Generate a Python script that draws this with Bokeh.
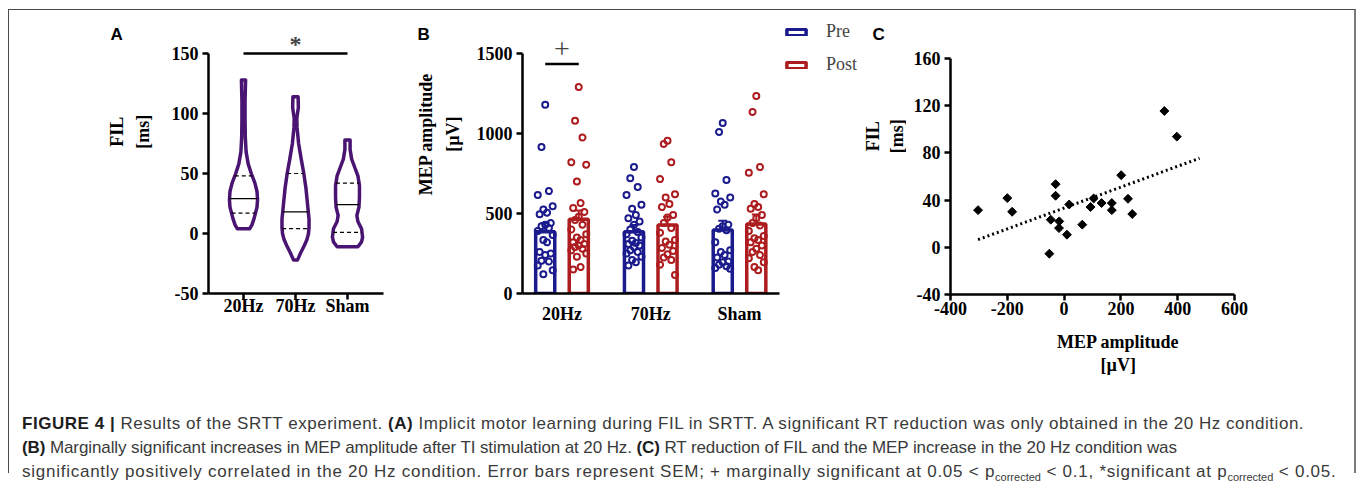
import numpy as np
from bokeh.plotting import figure
from bokeh.models import FixedTicker, Label, Legend, LegendItem, Div, Range1d
from bokeh.layouts import row, column
from bokeh.embed import file_html
from bokeh.resources import INLINE
from bokeh.core.properties import value

# ---------------- Panel A: violin profiles (value, half-width)
conditions = ["20Hz", "70Hz", "Sham"]
v20_y = [128, 110, 95, 80, 68, 58, 50, 42, 35, 28, 22, 17, 12, 7, 4]
v20_w = [0.04, 0.03, 0.03, 0.035, 0.05, 0.09, 0.15, 0.22, 0.26, 0.27, 0.26, 0.23, 0.2, 0.16, 0.12]
v70_y = [114, 105, 96, 88, 75, 62, 50, 38, 25, 12, 5, 0, -5, -10, -16, -22]
v70_w = [0.05, 0.055, 0.025, 0.03, 0.06, 0.11, 0.16, 0.2, 0.23, 0.26, 0.26, 0.25, 0.22, 0.17, 0.1, 0.04]
vsh_y = [78, 70, 62, 55, 48, 40, 30, 22, 15, 10, 4, -3, -7, -11]
vsh_w = [0.05, 0.05, 0.08, 0.14, 0.2, 0.23, 0.23, 0.22, 0.18, 0.2, 0.27, 0.29, 0.27, 0.2]
fil_median = [29, 18, 24]
fil_q1 = [17, 4, 1]
fil_q3 = [48, 50, 42]

# ---------------- Panel B
groups = ["20Hz", "70Hz", "Sham"]
pre_mean = [386, 386, 397]
post_mean = [464, 428, 434]
pre_sem = [55, 42, 58]
post_sem = [55, 52, 60]
pre_20 = [1180, 915, 640, 615, 545, 525, 505, 495, 440, 430, 420, 410, 390, 365, 335, 320, 260, 250, 240, 205, 200, 175, 145, 120]
post_20 = [1290, 1080, 975, 820, 805, 700, 565, 535, 510, 480, 460, 430, 400, 370, 350, 335, 320, 310, 300, 290, 280, 270, 250, 230, 165, 150]
pre_70 = [790, 720, 665, 615, 555, 530, 490, 470, 450, 430, 400, 385, 370, 350, 330, 315, 310, 300, 290, 270, 260, 250, 230, 210, 195, 175]
post_70 = [955, 935, 820, 715, 620, 600, 560, 540, 490, 475, 440, 410, 380, 335, 325, 305, 285, 265, 245, 225, 210, 180, 115]
pre_sh = [1065, 1010, 710, 625, 600, 575, 555, 525, 430, 420, 405, 395, 320, 270, 260, 240, 225, 200, 195, 180, 170, 160, 155]
post_sh = [1235, 1135, 790, 755, 620, 560, 540, 530, 490, 470, 440, 425, 390, 360, 345, 335, 320, 300, 280, 260, 240, 220, 195, 165, 145]

# ---------------- Panel C
mep_change = [-303, -200, -183, -52, -47, -30, -30, -17, -18, 10, 18, 64, 93, 104, 132, 168, 168, 201, 225, 240, 353, 397]
fil_change = [31.5, 41.7, 30.1, -5.4, 23.4, 53.5, 43.7, 22, 16.3, 10.7, 36.3, 19.2, 34.1, 41.4, 37.5, 37.5, 31.5, 61.1, 41.1, 28.2, 115.5, 93.8]
trend_x = [-303, 477]
trend_y = [6.5, 75.5]

PURPLE = "#4a1472"
BLUE = "#1b1b8e"
RED = "#ad1c1f"
SERIF = "Liberation Serif"
SANS = "Liberation Sans"
H = 371


def style(p, fs):
    p.grid.visible = False
    p.outline_line_color = None
    p.background_fill_color = "white"
    p.border_fill_color = "white"
    for ax in (p.xaxis[0], p.yaxis[0]):
        ax.axis_line_width = 2.5
        ax.axis_line_color = "black"
        ax.major_tick_line_width = 2.5
        ax.major_tick_line_color = "black"
        ax.major_tick_out = 6
        ax.major_tick_in = 0
        ax.minor_tick_line_color = None
        ax.major_label_text_font = SERIF
        ax.major_label_text_font_style = "bold"
        ax.major_label_text_font_size = fs
        ax.major_label_text_color = "black"


def strip(width, height):
    s = figure(width=width, height=height, x_range=Range1d(0, width), y_range=Range1d(0, height),
               output_backend="svg", toolbar_location=None, min_border=0,
               x_axis_location=None, y_axis_location=None)
    s.grid.visible = False
    s.outline_line_color = None
    s.background_fill_color = "white"
    s.border_fill_color = "white"
    return s


def stext(s, x, y, text, size, font=SERIF, bold=True, angle=0.0, align="center", baseline="middle"):
    s.text(x=[x], y=[y], text=[text], angle=angle, text_font=value(font),
           text_font_size=value(size), text_font_style="bold" if bold else "normal",
           text_align=align, text_baseline=baseline, text_color="black")


# ================= Panel A =================
sA = strip(151, H)
stext(sA, 101, 340, "A", "17px", font=SANS, align="left", baseline="alphabetic")
stext(sA, 107, 212, "FIL", "18px", angle=np.pi / 2)
stext(sA, 133, 212, "[ms]", "18px", angle=np.pi / 2)

pA = figure(width=240, height=H, x_range=Range1d(-0.673, 3.019), y_range=Range1d(-50, 185.83),
            output_backend="svg", toolbar_location=None,
            min_border_left=48, min_border_right=0, min_border_top=0, min_border_bottom=88)
style(pA, "18px")
pA.xaxis.bounds = (-0.673, 2.69)
pA.yaxis.bounds = (-50, 150)
pA.xaxis.ticker = FixedTicker(ticks=[0, 1, 2])
pA.xaxis.major_label_overrides = {i: c for i, c in enumerate(conditions)}
pA.xaxis.major_label_standoff = -4
pA.yaxis.ticker = FixedTicker(ticks=[-50, 0, 50, 100, 150])
pA.yaxis.major_label_overrides = {-50: "-50"}
pA.yaxis.major_label_standoff = 4

profiles = [(v20_y, v20_w), (v70_y, v70_w), (vsh_y, vsh_w)]
for i, (yy, ww) in enumerate(profiles):
    yy = np.array(yy, float)
    ww = np.array(ww, float)
    xs = list(i + ww[::-1]) + list(i - ww)
    ys = list(yy[::-1]) + list(yy)
    pA.patch(xs, ys, fill_color=None, line_color=PURPLE, line_width=3.5, line_join="round")
    for lvl, dash in ((fil_median[i], "solid"), (fil_q1[i], "4 3"), (fil_q3[i], "4 3")):
        hw = float(np.interp(lvl, yy[::-1], ww[::-1]))
        pA.line([i - hw, i + hw], [lvl, lvl], line_color="black", line_width=1.2, line_dash=dash)

pA.line([0, 2], [150, 150], line_color="black", line_width=2.5)
pA.add_layout(Label(x=1, y=157.5, text="*", text_font=SERIF, text_font_size="24px",
                    text_font_style="bold", text_align="center", text_baseline="middle"))

# ================= Panel B =================
sB = strip(66, H)
stext(sB, 17, 340, "B", "17px", font=SANS, align="left", baseline="alphabetic")
stext(sB, 25, 209, "MEP amplitude", "18px", angle=np.pi / 2)
stext(sB, 52, 209, "[\u00b5V]", "18px", angle=np.pi / 2)

pB = figure(width=394, height=H, x_range=Range1d(-0.445, 3.363), y_range=Range1d(0, 1768.75),
            output_backend="svg", toolbar_location=None,
            min_border_left=56, min_border_right=0, min_border_top=0, min_border_bottom=88)
style(pB, "18px")
pB.xaxis.bounds = (-0.445, 2.451)
pB.yaxis.bounds = (0, 1500)
pB.xaxis.ticker = FixedTicker(ticks=[0, 1, 2])
pB.xaxis.major_label_overrides = {i: g for i, g in enumerate(groups)}
pB.xaxis.major_tick_out = 0
pB.xaxis.major_label_standoff = 10
pB.yaxis.ticker = FixedTicker(ticks=[0, 500, 1000, 1500])
pB.yaxis.major_label_standoff = 4

off = 0.189
xc = np.arange(3)
r_pre = pB.vbar(x=xc - off, top=pre_mean, width=0.215, bottom=0, fill_color=None,
                line_color=BLUE, line_width=3.5)
r_post = pB.vbar(x=xc + off, top=post_mean, width=0.215, bottom=0, fill_color=None,
                 line_color=RED, line_width=3.5)
for k in range(3):
    for xk, m, s, col in ((k - off, pre_mean[k], pre_sem[k], BLUE), (k + off, post_mean[k], post_sem[k], RED)):
        pB.segment(x0=[xk], y0=[m], x1=[xk], y1=[m + s], line_color=col, line_width=2)
        pB.segment(x0=[xk - 0.05], y0=[m + s], x1=[xk + 0.05], y1=[m + s], line_color=col, line_width=2)

pattern = [0, -1, 1, -2, 2, -0.5, 0.5, -1.5, 1.5]


def jit(n, spread=0.042):
    return np.array([pattern[i % len(pattern)] * spread for i in range(n)])


for k, (pre_v, post_v) in enumerate(((pre_20, post_20), (pre_70, post_70), (pre_sh, post_sh))):
    pB.scatter(k - off + jit(len(pre_v)), pre_v, marker="circle", size=6, fill_color=None,
               line_color=BLUE, line_width=2)
    pB.scatter(k + off + jit(len(post_v)), post_v, marker="circle", size=6, fill_color=None,
               line_color=RED, line_width=2)

pB.line([-off, off], [1435, 1435], line_color="black", line_width=2.5)
pB.add_layout(Label(x=0, y=1530, text="+", text_font=SERIF, text_font_size="28px",
                    text_align="center", text_baseline="middle"))

legend = Legend(items=[LegendItem(label="Pre", renderers=[r_pre]),
                       LegendItem(label="Post", renderers=[r_post])],
                location=(262, 218))
legend.background_fill_alpha = 0
legend.border_line_color = None
legend.glyph_width = 24
legend.glyph_height = 8
legend.label_standoff = 18
legend.spacing = 12
legend.padding = 0
legend.margin = 0
legend.label_height = 20
legend.label_text_font = SERIF
legend.label_text_font_size = "18px"
legend.label_text_baseline = "middle"
pB.add_layout(legend)

# ================= Panel C =================
sC = strip(46, H)
stext(sC, 12, 340, "C", "17px", font=SANS, align="left", baseline="alphabetic")
stext(sC, 12, 206, "FIL", "18px", angle=np.pi / 2)
stext(sC, 36, 206, "[ms]", "18px", angle=np.pi / 2)

pC = figure(width=448, height=314, x_range=Range1d(-400, 1022.5), y_range=Range1d(-40, 200.7),
            output_backend="svg", toolbar_location=None,
            min_border_left=44, min_border_right=0, min_border_top=0, min_border_bottom=30)
style(pC, "18px")
pC.xaxis.bounds = (-400, 600)
pC.yaxis.bounds = (-40, 160)
pC.xaxis.ticker = FixedTicker(ticks=[-400, -200, 0, 200, 400, 600])
pC.xaxis.major_label_overrides = {-400: "-400", -200: "-200"}
pC.xaxis.major_label_standoff = 1
pC.yaxis.ticker = FixedTicker(ticks=[-40, 0, 40, 80, 120, 160])
pC.yaxis.major_label_overrides = {-40: "-40"}
pC.yaxis.major_label_standoff = 4

pC.line(trend_x, trend_y, line_color="black", line_width=3, line_dash="2 3")
pC.scatter(mep_change, fil_change, marker="square", angle=np.pi / 4, size=6.3,
           fill_color="black", line_color="black")

sCb = strip(448, H - 314)
stext(sCb, 186, 40, "MEP amplitude", "18px")
stext(sCb, 186, 17, "[\u00b5V]", "18px")

# ================= Caption =================
B = '<b style="color:#1e1e1e">'
SUB = '<sub style="font-size:11px;letter-spacing:0">corrected</sub>'
caption = (
    '<div style="font-family:\'Liberation Sans\',Arial,sans-serif;font-size:17px;line-height:24px;'
    'color:#3a3a3a;padding:31px 0 0 13px;white-space:nowrap;">'
    '<span style="letter-spacing:0.53px">' + B + 'FIGURE 4 |</b> Results of the SRTT experiment. ' + B + '(A)</b> '
    'Implicit motor learning during FIL in SRTT. A significant RT reduction was only obtained in the 20 Hz condition.</span><br>'
    '<span style="letter-spacing:-0.1px">' + B + '(B)</b> Marginally significant increases in MEP amplitude after TI stimulation at 20 Hz. '
    + B + '(C)</b> RT reduction of FIL and the MEP increase in the 20 Hz condition was</span><br>'
    '<span style="letter-spacing:0.75px">significantly positively correlated in the 20 Hz condition. Error bars represent SEM; + marginally significant at '
    '0.05 &lt; p' + SUB + ' &lt; 0.1, *significant at p' + SUB + ' &lt; 0.05.</span>'
    '</div>'
)
cap = Div(text=caption, width=1345, height=92, margin=0)

top = row(sA, pA, sB, pB, sC, column(pC, sCb))
layout = column(top, cap, margin=(9, 0, 0, 8),
                styles={"border-top": "1px solid #4a4a4a", "border-left": "1px solid #4a4a4a",
                        "border-right": "2px solid #7a7a7a"})

open("out.html", "w").write(file_html(layout, INLINE))
